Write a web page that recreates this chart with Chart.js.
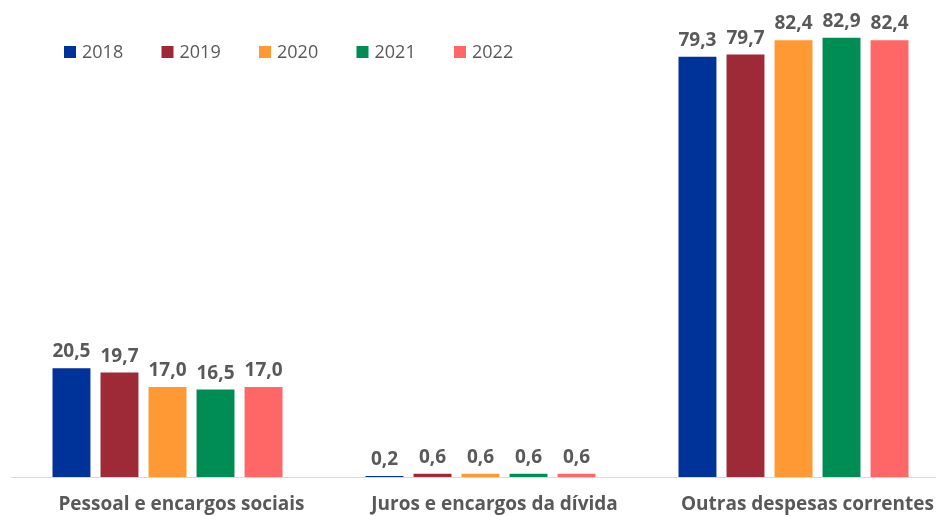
<!DOCTYPE html>
<html>
<head>
<meta charset="utf-8">
<script src="https://cdn.jsdelivr.net/npm/chart.js@4.4.1/dist/chart.umd.min.js"></script>
<style>
    html, body { margin: 0; padding: 0; background: #fff; overflow: hidden; }
    #wrap { width: 950px; height: 516px; position: relative; }
</style>
</head>
<body>
<div id="wrap"><canvas id="chart"></canvas></div>
<script>
// Chart data
const categories = ['Pessoal e encargos sociais', 'Juros e encargos da dívida', 'Outras despesas correntes'];
const years = ['2018', '2019', '2020', '2021', '2022'];
const values2018 = [20.5, 0.2, 79.3];
const values2019 = [19.7, 0.6, 79.7];
const values2020 = [17.0, 0.6, 82.4];
const values2021 = [16.5, 0.6, 82.9];
const values2022 = [17.0, 0.6, 82.4];
const colors = ['#003399', '#9E2A38', '#FF9933', '#008C55', '#FF6666'];

const textColor = '#595959';
const fontFamily = '"Open Sans", "Noto Sans", sans-serif';

const series = [values2018, values2019, values2020, values2021, values2022];

/**
 * Value labels above each bar
 */
const valueLabels = {
    id: 'valueLabels',
    afterDatasetsDraw(chart) {
        const ctx = chart.ctx;
        ctx.save();
        ctx.font = 'bold 19px ' + fontFamily;
        ctx.fillStyle = textColor;
        ctx.textAlign = 'center';
        ctx.textBaseline = 'alphabetic';
        chart.data.datasets.forEach((ds, i) => {
            chart.getDatasetMeta(i).data.forEach((bar, j) => {
                const txt = ds.data[j].toFixed(1).replace('.', ',');
                ctx.fillText(txt, bar.x, bar.y - 11);
            });
        });
        ctx.restore();
    }
};

/**
 * Legend drawn inside the plot area (top left)
 */
const insideLegend = {
    id: 'insideLegend',
    afterDraw(chart) {
        const ctx = chart.ctx;
        ctx.save();
        ctx.font = '18px ' + fontFamily;
        ctx.textBaseline = 'middle';
        ctx.textAlign = 'left';
        chart.data.datasets.forEach((ds, i) => {
            const x = 64 + i * 97.5;
            const y = 52;
            ctx.fillStyle = ds.backgroundColor;
            ctx.fillRect(x, y - 6, 12, 12);
            ctx.fillStyle = textColor;
            ctx.fillText(ds.label, x + 18, y + 1);
        });
        ctx.restore();
    }
};

new Chart(document.getElementById('chart'), {
    type: 'bar',
    data: {
        labels: categories,
        datasets: years.map((y, i) => ({
            label: y,
            data: series[i],
            backgroundColor: colors[i],
            categoryPercentage: 0.767,
            barPercentage: 0.79
        }))
    },
    options: {
        responsive: true,
        maintainAspectRatio: false,
        animation: false,
        layout: { padding: { left: 11, right: 0, top: 0, bottom: 0 } },
        plugins: {
            legend: { display: false },
            tooltip: { enabled: false }
        },
        scales: {
            x: {
                grid: { display: false, drawTicks: false },
                border: { display: true, color: '#D9D9D9', width: 1 },
                afterFit(scale) { scale.height = 39; },
                ticks: {
                    color: textColor,
                    padding: 16,
                    labelOffset: 14,
                    maxRotation: 0,
                    minRotation: 0,
                    font: { family: fontFamily, size: 19, weight: 'bold' }
                }
            },
            y: {
                display: false,
                min: 0,
                max: 90
            }
        }
    },
    plugins: [valueLabels, insideLegend]
});
</script>
</body>
</html>
